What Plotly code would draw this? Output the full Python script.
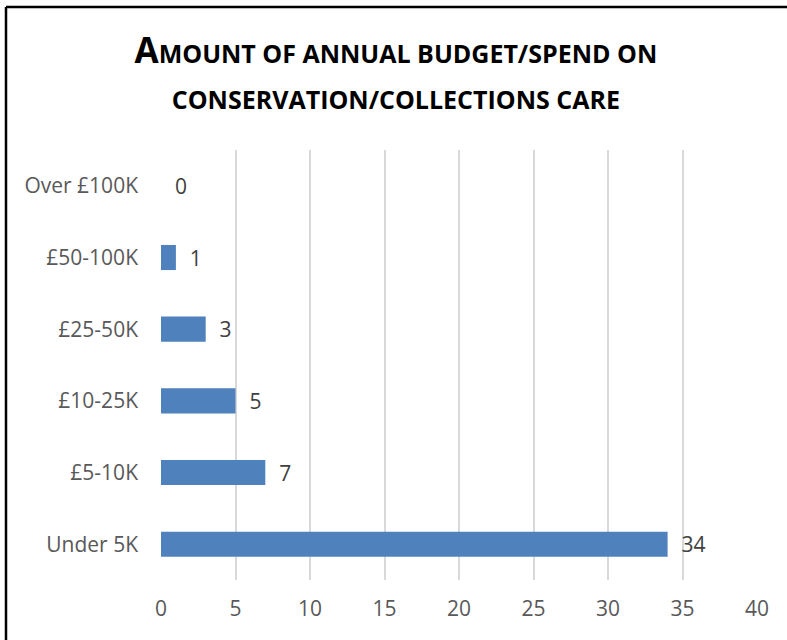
import plotly.graph_objects as go

# Budget bands (bottom to top) and number of responses in each
categories = ["Under 5K", "£5-10K", "£10-25K", "£25-50K", "£50-100K", "Over £100K"]
counts = [34, 7, 5, 3, 1, 0]
x_ticks = [0, 5, 10, 15, 20, 25, 30, 35, 40]

FONT = "Open Sans"
BIG = 35
SMALL = 25
TICK_SIZE = 21

W, H = 787, 640
M_L, M_R, M_T, M_B = 161, 30, 150, 60
PLOT_W = W - M_L - M_R
PLOT_H = H - M_T - M_B


def small_caps(text, lead_caps=""):
    """Render text as small caps with optional full-size leading capital."""
    out = ""
    if lead_caps:
        out += f"<span style='font-size:{BIG}px'>{lead_caps}</span>"
    out += f"<span style='font-size:{SMALL}px'>{text.upper()}</span>"
    return out


title_text = (
    small_caps("mount of annual budget/spend on", "A")
    + "<br>"
    + small_caps("conservation/collections care")
)

fig = go.Figure(
    go.Bar(
        x=counts,
        y=categories,
        orientation="h",
        marker=dict(color="#4F81BD", line=dict(width=0)),
        width=0.35,
        text=counts,
        texttemplate="  %{x}",
        textposition="outside",
        constraintext="none",
        textfont=dict(family=FONT, size=TICK_SIZE, color="#404040"),
        cliponaxis=False,
    )
)

# Chart frame: top and left edges
frame = dict(color="#000000", width=2.5)
fx0 = (6 - M_L) / PLOT_W
fx1 = (W - M_L) / PLOT_W
fy_top = (H - M_B - 7) / PLOT_H
fy_bot = -M_B / PLOT_H
fig.update_layout(
    width=W,
    height=H,
    margin=dict(l=M_L, r=M_R, t=M_T, b=M_B),
    paper_bgcolor="white",
    plot_bgcolor="white",
    showlegend=False,
    title=dict(
        text=title_text,
        x=0.503,
        xanchor="center",
        yref="container",
        y=1 - 63 / H,
        yanchor="middle",
        font=dict(family=FONT, size=BIG, color="#000000", weight="bold"),
    ),
    shapes=[
        dict(type="line", xref="paper", yref="paper",
             x0=fx0, x1=fx1, y0=fy_top, y1=fy_top, line=frame, layer="above"),
        dict(type="line", xref="paper", yref="paper",
             x0=fx0, x1=fx0, y0=fy_bot, y1=fy_top, line=frame, layer="above"),
    ],
)

fig.update_xaxes(
    range=[0, 40],
    tickvals=x_ticks,
    showgrid=True,
    gridcolor="#D9D9D9",
    gridwidth=1.5,
    zeroline=False,
    showline=False,
    ticks="",
    ticklabelstandoff=14,
    tickfont=dict(family=FONT, size=TICK_SIZE, color="#595959"),
)

fig.update_yaxes(
    categoryorder="array",
    categoryarray=categories,
    range=[-0.5, 5.5],
    showgrid=False,
    zeroline=False,
    showline=False,
    ticks="",
    ticklabelstandoff=22,
    tickfont=dict(family=FONT, size=TICK_SIZE, color="#595959"),
)

fig.write_html("out.html", config={"displayModeBar": False})
